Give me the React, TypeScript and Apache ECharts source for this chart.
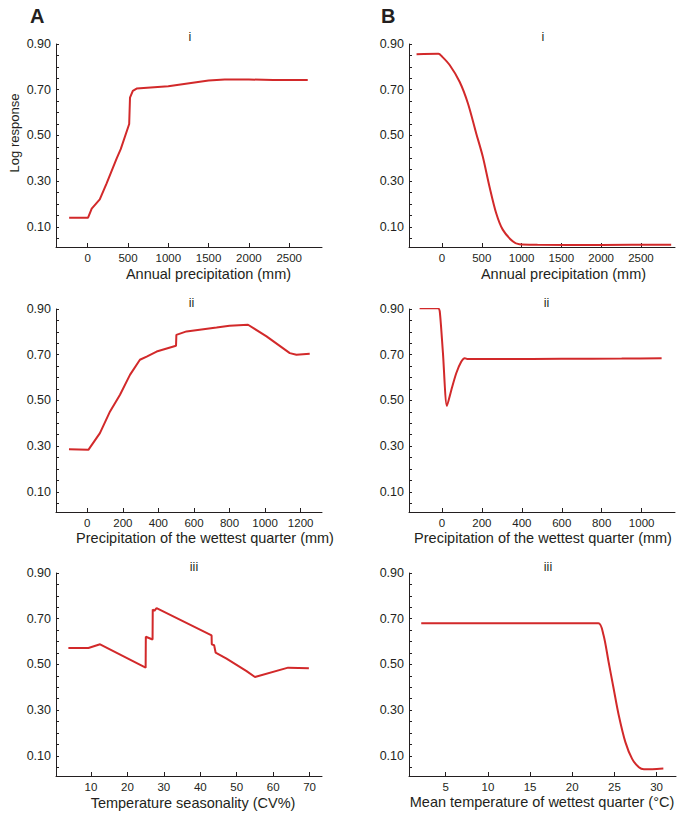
import React, { useEffect, useRef } from "react";
import * as echarts from "echarts";

// ---- Data ----
// Panel A-i: Annual precipitation (mm)
const aiX = [-230, 5, 50, 150, 235, 360, 410, 515, 525, 560, 607, 1000, 1500, 1700, 2000, 2300, 2730];
const aiY = [0.14, 0.14, 0.18, 0.22, 0.29, 0.40, 0.44, 0.55, 0.665, 0.695, 0.705, 0.715, 0.74, 0.745, 0.745, 0.742, 0.743];

// Panel B-i: Annual precipitation (mm)
const biX = [-320, -45, 0, 96, 221, 325, 429, 512, 596, 680, 763, 888, 971, 1200, 2000, 2880];
const biY = [0.855, 0.857, 0.845, 0.808, 0.735, 0.641, 0.51, 0.408, 0.277, 0.161, 0.088, 0.037, 0.024, 0.022, 0.021, 0.022];

// Panel A-ii: Precipitation of the wettest quarter (mm)
const aiiX = [-103, 6, 71, 128, 184, 240, 296, 334, 390, 499, 501, 558, 727, 800, 904, 1008, 1139, 1176, 1251];
const aiiY = [0.287, 0.284, 0.357, 0.452, 0.525, 0.612, 0.678, 0.692, 0.714, 0.739, 0.787, 0.802, 0.819, 0.827, 0.831, 0.78, 0.707, 0.70, 0.704];

// Panel B-ii: Precipitation of the wettest quarter (mm)
const biiX = [-112, -20, -11, 5, 25, 47, 72, 97, 114, 130, 300, 600, 900, 1100];
const biiY = [0.903, 0.903, 0.89, 0.707, 0.476, 0.546, 0.62, 0.67, 0.685, 0.681, 0.681, 0.682, 0.683, 0.685];

// Panel A-iii: Temperature seasonality (CV%)
const aiiiX = [3.8, 9.3, 12.5, 25.0, 25.05, 26.9, 26.95, 27.4, 28.0, 43.1, 43.15, 43.8, 44.2, 47.2, 52.7, 55.0, 64.1, 69.8];
const aiiiY = [0.572, 0.572, 0.588, 0.486, 0.621, 0.609, 0.74, 0.735, 0.746, 0.627, 0.588, 0.584, 0.552, 0.525, 0.471, 0.445, 0.486, 0.483];

// Panel B-iii: Mean temperature of wettest quarter (°C)
const biiiX = [2.1, 10, 20, 23.1, 23.7, 24.3, 24.9, 25.5, 26.3, 27.1, 27.9, 28.5, 29.5, 30.8];
const biiiY = [0.68, 0.68, 0.68, 0.68, 0.63, 0.513, 0.396, 0.28, 0.16, 0.087, 0.05, 0.041, 0.042, 0.045];

// Tick values
const yTickLabels = [0.1, 0.3, 0.5, 0.7, 0.9];
const yTicks = [0.05, 0.1, 0.15, 0.2, 0.25, 0.3, 0.35, 0.4, 0.45, 0.5, 0.55, 0.6, 0.65, 0.7, 0.75, 0.8, 0.85, 0.9];
const xTicksAnnual = [0, 500, 1000, 1500, 2000, 2500];
const xTicksWetA = [0, 200, 400, 600, 800, 1000, 1200];
const xTicksWetB = [0, 200, 400, 600, 800, 1000];
const xTicksSeason = [10, 20, 30, 40, 50, 60, 70];
const xTicksTemp = [5, 10, 15, 20, 25, 30];

const zip = (xs: number[], ys: number[]) => xs.map((x, i) => [x, ys[i]]);

const INK = "#231f20";
const RED = "#d2292a";
const FONT = "'Liberation Sans', Arial, Helvetica, sans-serif";

export default function App() {
  const ref = useRef<HTMLDivElement>(null);

  useEffect(() => {
    if (!ref.current) return;
    const chart = echarts.init(ref.current, undefined, { renderer: "svg" });

    const grids = [
      { left: 56, top: 44, width: 266, height: 203 },
      { left: 409, top: 44, width: 266, height: 203 },
      { left: 56, top: 309, width: 266, height: 203 },
      { left: 409, top: 309, width: 266, height: 203 },
      { left: 56, top: 573, width: 266, height: 203 },
      { left: 409, top: 573, width: 267, height: 203 },
    ];

    const xDefs = [
      { min: -393, max: 2907, ticks: xTicksAnnual },
      { min: -415, max: 2928, ticks: xTicksAnnual },
      { min: -176, max: 1320, ticks: xTicksWetA },
      { min: -165, max: 1167, ticks: xTicksWetB },
      { min: 0.4, max: 73.4, ticks: xTicksSeason },
      { min: 0.65, max: 32.3, ticks: xTicksTemp },
    ];

    const seriesData = [
      { d: zip(aiX, aiY), smooth: false },
      { d: zip(biX, biY), smooth: 0.3 },
      { d: zip(aiiX, aiiY), smooth: false },
      { d: zip(biiX, biiY), smooth: 0.25 },
      { d: zip(aiiiX, aiiiY), smooth: false },
      { d: zip(biiiX, biiiY), smooth: 0.3 },
    ];

    const axisLine = { show: true, onZero: false, lineStyle: { color: INK, width: 1 } };

    const xAxis = xDefs.map((d, i) => ({
      type: "value",
      gridIndex: i,
      min: d.min,
      max: d.max,
      splitLine: { show: false },
      axisLine,
      axisTick: { show: true, inside: true, length: 4, customValues: d.ticks, lineStyle: { color: INK } },
      axisLabel: {
        customValues: d.ticks,
        formatter: (v: number) => String(v),
        color: INK,
        fontFamily: FONT,
        fontSize: 11.5,
        margin: 5,
      },
    }));

    const yAxis = grids.map((_, i) => ({
      type: "value",
      gridIndex: i,
      min: 0.012,
      max: 0.9,
      splitLine: { show: false },
      axisLine,
      axisTick: { show: true, inside: true, length: 3, customValues: yTicks, lineStyle: { color: INK } },
      axisLabel: {
        customValues: yTickLabels,
        formatter: (v: number) => v.toFixed(2),
        color: INK,
        fontFamily: FONT,
        fontSize: 12.5,
        margin: 5,
      },
    }));

    const series = seriesData.map((s, i) => ({
      type: "line",
      xAxisIndex: i,
      yAxisIndex: i,
      data: s.d,
      showSymbol: false,
      symbol: "none",
      smooth: s.smooth,
      lineStyle: { color: RED, width: 2 },
      silent: true,
    }));

    const txt = (text: string, x: number, y: number, size: number, extra: any = {}) => ({
      type: "text",
      x,
      y,
      rotation: extra.rotation || 0,
      style: {
        text,
        fill: INK,
        fontFamily: FONT,
        fontSize: size,
        fontWeight: extra.weight || "normal",
        align: extra.align || "center",
        verticalAlign: "middle",
      },
    });

    const graphic = [
      txt("A", 30, 16, 20, { weight: "bold", align: "left" }),
      txt("B", 381, 16, 20, { weight: "bold", align: "left" }),
      txt("i", 190, 37, 12.5),
      txt("i", 543, 37, 12.5),
      txt("ii", 191.5, 303, 12.5),
      txt("ii", 546.5, 303, 12.5),
      txt("iii", 194, 567, 12.5),
      txt("iii", 548, 567, 12.5),
      txt("Annual precipitation (mm)", 208.5, 274, 14.5),
      txt("Annual precipitation (mm)", 563.5, 274, 14.5),
      txt("Precipitation of the wettest quarter (mm)", 205, 538, 14.5),
      txt("Precipitation of the wettest quarter (mm)", 543, 538, 14.5),
      txt("Temperature seasonality (CV%)", 193, 803, 14.5),
      txt("Mean temperature of wettest quarter (°C)", 542, 802, 14.5),
      txt("Log response", 14, 133, 13, { rotation: Math.PI / 2 }),
    ];

    chart.setOption({
      animation: false,
      backgroundColor: "#ffffff",
      grid: grids.map((g) => ({ ...g, containLabel: false, outerBoundsMode: "none" })),
      xAxis,
      yAxis,
      series,
      graphic,
    } as any);

    return () => chart.dispose();
  }, []);

  return (
    <div
      ref={ref}
      style={{ position: "fixed", left: 0, top: 0, width: 683, height: 817, background: "#fff" }}
    />
  );
}
